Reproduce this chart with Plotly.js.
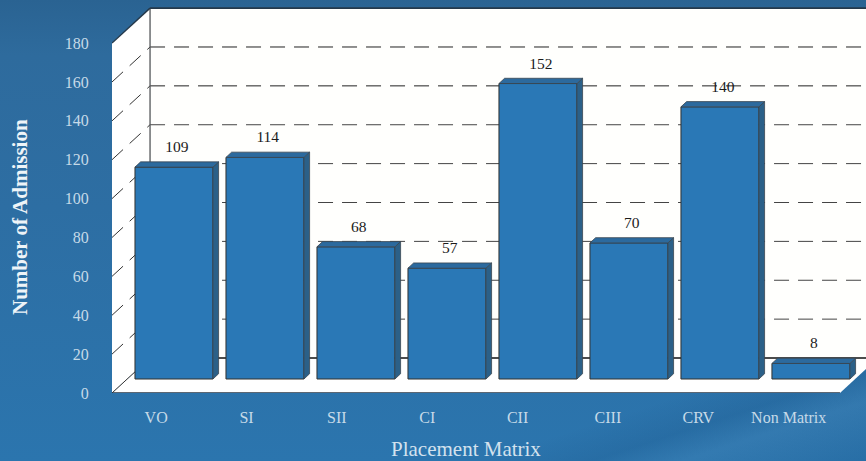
<!DOCTYPE html>
<html>
<head>
<meta charset="utf-8">
<script src="https://cdn.plot.ly/plotly-3.0.1.min.js"></script>
<style>
  html, body { margin: 0; padding: 0; width: 866px; height: 461px; overflow: hidden; }
  body {
    background:
      linear-gradient(162deg, rgba(255,255,255,0) 83%, rgba(0,30,70,0.09) 88%, rgba(255,255,255,0.04) 92%, rgba(0,30,70,0.08) 100%),
      linear-gradient(180deg, #2a6392 0%, #2e6b9d 12%, #2d6ea3 45%, #2b75ae 100%);
  }
  #chart { width: 866px; height: 461px; }
</style>
</head>
<body>
<div id="chart"></div>
<script>
// Admissions per placement matrix group
const categories = ['VO', 'SI', 'SII', 'CI', 'CII', 'CIII', 'CRV', 'Non Matrix'];
const admissions = [109, 114, 68, 57, 152, 70, 140, 8];
const yTicks = [0, 20, 40, 60, 80, 100, 120, 140, 160, 180];

// Pseudo-3D box: offsets of the back wall and of the bars, in axis units
const wallDx = 0.418, wallDy = 18;
const barShiftX = 0.181, barShiftY = 7.2;
const barWidth = 0.857;
const faceDx = 0.062, faceDy = 2.7;
const xMin = -0.5, xMax = 7.786, yMax = 199.6, xFrontEnd = 7.5;
const xs = categories.map((_, i) => i + barShiftX);

// Side and top faces of every bar, separated by nulls
const sideX = [], sideY = [], topX = [], topY = [];
admissions.forEach((v, i) => {
  const l = xs[i] - barWidth / 2, r = xs[i] + barWidth / 2, t = barShiftY + v;
  sideX.push(r, r + faceDx, r + faceDx, r, r, null);
  sideY.push(barShiftY, barShiftY + faceDy, t + faceDy, t, barShiftY, null);
  topX.push(l, l + faceDx, r + faceDx, r, l, null);
  topY.push(t, t + faceDy, t + faceDy, t, t, null);
});

const traces = [
  {
    type: 'bar', x: xs, y: admissions, base: barShiftY, width: barWidth,
    marker: { color: '#2a78b6', line: { color: '#33322f', width: 1 } },
    hoverinfo: 'skip', showlegend: false
  },
  {
    type: 'scatter', mode: 'lines', x: sideX, y: sideY, fill: 'toself',
    fillcolor: '#2b6088', line: { color: '#3a4650', width: 0.8 },
    hoverinfo: 'skip', showlegend: false
  },
  {
    type: 'scatter', mode: 'lines', x: topX, y: topY, fill: 'toself',
    fillcolor: '#2c6a9e', line: { color: '#3a4650', width: 0.8 },
    hoverinfo: 'skip', showlegend: false
  },
  {
    type: 'scatter', mode: 'text',
    x: xs.map(x => x + faceDx / 2),
    y: admissions.map(v => barShiftY + v + faceDy + 3),
    text: admissions.map(String), textposition: 'top center',
    textfont: { family: '"Liberation Serif", serif', size: 15.5, color: '#1b1b1b' },
    hoverinfo: 'skip', showlegend: false, cliponaxis: false
  }
];

const poly = (pts) => 'M' + pts.map(p => p.join(',')).join('L') + 'Z';
const shapes = [
  // back wall, side wall and floor
  { type: 'path', layer: 'below', xref: 'x', yref: 'y', fillcolor: '#fffffd', line: { width: 0 },
    path: poly([[xMin + wallDx, wallDy], [xMax + 1, wallDy], [xMax + 1, 180 + wallDy], [xMin + wallDx, 180 + wallDy]]) },
  { type: 'path', layer: 'below', xref: 'x', yref: 'y', fillcolor: '#ffffff', line: { width: 0 },
    path: poly([[xMin, 0], [xMin + wallDx, wallDy], [xMin + wallDx, 180 + wallDy], [xMin, 180]]) },
  { type: 'path', layer: 'below', xref: 'x', yref: 'y', fillcolor: '#ffffff', line: { width: 0 },
    path: poly([[xMin, 0], [xFrontEnd, 0], [xFrontEnd + wallDx, wallDy], [xMin + wallDx, wallDy]]) }
];

yTicks.forEach(v => {
  if (v === 180) return;
  const solid = v === 0;
  const tone = v >= 140 ? '#222222' : '#444444';
  shapes.push({
    type: 'line', layer: 'below', xref: 'x', yref: 'y',
    x0: xMin + wallDx, x1: xMax + 1, y0: v + wallDy, y1: v + wallDy,
    line: { color: solid ? '#111111' : tone, width: solid ? 1.3 : 1, dash: solid ? 'solid' : '15px,9px' }
  });
  shapes.push({
    type: 'line', layer: 'below', xref: 'x', yref: 'y',
    x0: xMin, x1: xMin + wallDx, y0: v, y1: v + wallDy,
    line: { color: '#333333', width: 1, dash: solid ? 'solid' : '15px,9px' }
  });
});

// Outlines of the box
shapes.push(
  { type: 'line', layer: 'below', xref: 'x', yref: 'y', x0: xMin + wallDx, x1: xMin + wallDx, y0: wallDy, y1: 180 + wallDy,
    line: { color: '#55585a', width: 1.3 } },
  { type: 'line', layer: 'below', xref: 'x', yref: 'y', x0: xMin + wallDx, x1: xMax + 1, y0: 180 + wallDy, y1: 180 + wallDy,
    line: { color: '#24384a', width: 1.6 } },
  { type: 'line', layer: 'below', xref: 'x', yref: 'y', x0: xMin, x1: xMin + wallDx, y0: 180, y1: 180 + wallDy,
    line: { color: '#24384a', width: 1.4 } },
  { type: 'line', layer: 'below', xref: 'x', yref: 'y', x0: xMin, x1: xFrontEnd, y0: 0, y1: 0,
    line: { color: '#263544', width: 1.6 } }
);

const tickFont = { family: '"Liberation Serif", serif', size: 16, color: '#c6dae8' };

const layout = {
  width: 866, height: 461,
  margin: { l: 112, r: 0, t: 5, b: 68 },
  paper_bgcolor: 'rgba(0,0,0,0)',
  plot_bgcolor: 'rgba(0,0,0,0)',
  showlegend: false,
  bargap: 0,
  shapes: shapes,
  annotations: [
    { text: 'Placement Matrix', xref: 'paper', yref: 'paper', x: 0.4695, y: -0.1443,
      xanchor: 'center', yanchor: 'middle', showarrow: false,
      font: { family: '"Liberation Serif", serif', size: 21, color: '#d3e2ee' } },
    { text: '<b>Number of Admission</b>', xref: 'paper', yref: 'paper', x: -0.122, y: 0.4536,
      xanchor: 'center', yanchor: 'middle', textangle: -90, showarrow: false,
      font: { family: '"Liberation Serif", serif', size: 21, color: '#eef4f8' } }
  ],
  xaxis: {
    type: 'linear', range: [xMin, xMax],
    tickmode: 'array', tickvals: categories.map((_, i) => i * 0.993 - 0.015), ticktext: categories,
    tickfont: tickFont, ticks: 'outside', ticklen: 10, tickcolor: 'rgba(0,0,0,0)',
    showgrid: false, zeroline: false, showline: false
  },
  yaxis: {
    type: 'linear', range: [0, yMax],
    tickmode: 'array', tickvals: yTicks, ticktext: yTicks.map(String),
    tickfont: tickFont, ticks: 'outside', ticklen: 19, tickcolor: 'rgba(0,0,0,0)',
    showgrid: false, zeroline: false, showline: false
  }
};

Plotly.newPlot('chart', traces, layout, { displayModeBar: false, staticPlot: true });
</script>
</body>
</html>
